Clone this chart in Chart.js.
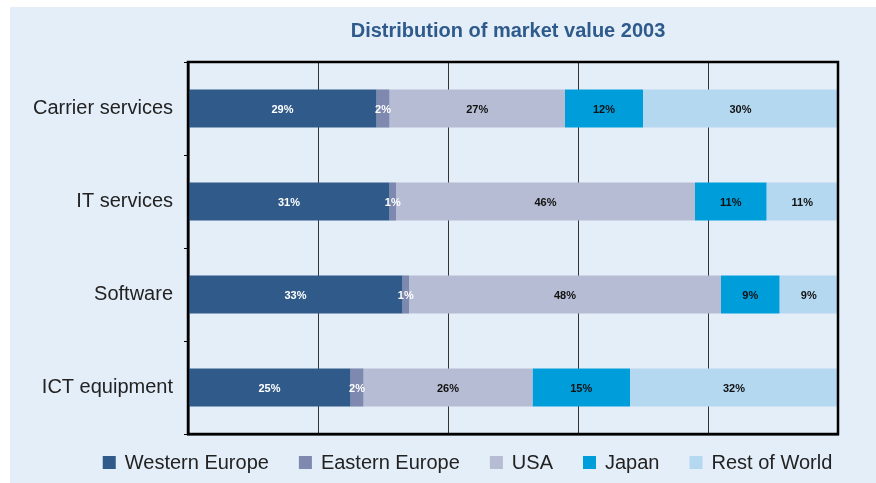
<!DOCTYPE html>
<html>
<head>
<meta charset="utf-8">
<script src="https://cdn.jsdelivr.net/npm/chart.js@4/dist/chart.umd.min.js"></script>
<style>
  body { margin: 0; background: #fff; }
  #panel { position: absolute; left: 10px; top: 7px; width: 866px; height: 476px; background: #e4eef8; }
</style>
</head>
<body>
<div id="panel"><canvas id="marketChart" width="866" height="476"></canvas></div>
<script>
const categories = ["Carrier services", "IT services", "Software", "ICT equipment"];
const regions = ["Western Europe", "Eastern Europe", "USA", "Japan", "Rest of World"];
const westernEurope = [29, 31, 33, 25];
const easternEurope = [2, 1, 1, 2];
const usa = [27, 46, 48, 26];
const japan = [12, 11, 9, 15];
const restOfWorld = [30, 11, 9, 32];
const colours = ["#2f5a8a", "#7f88ae", "#b6bcd3", "#009ddb", "#b5d8f1"];
const labelColours = ["#ffffff", "#ffffff", "#111111", "#111111", "#111111"];

const FONT = "'Liberation Sans', Arial, sans-serif";

// percent labels in the middle of each segment
const segmentLabels = {
    id: 'segmentLabels',
    afterDatasetsDraw(chart) {
        const ctx = chart.ctx;
        ctx.save();
        ctx.font = "bold 11px " + FONT;
        ctx.textAlign = 'center';
        ctx.textBaseline = 'middle';
        chart.data.datasets.forEach(function (ds, i) {
            const meta = chart.getDatasetMeta(i);
            meta.data.forEach(function (bar, j) {
                ctx.fillStyle = labelColours[i];
                ctx.fillText(ds.data[j] + '%', (bar.x + bar.base) / 2, bar.y + 1);
            });
        });
        ctx.restore();
    }
};

// frame, title and legend
const decorations = {
    id: 'decorations',
    afterDraw(chart) {
        const ctx = chart.ctx;
        const a = chart.chartArea;
        ctx.save();
        ctx.strokeStyle = '#000';
        ctx.lineWidth = 2.5;
        ctx.strokeRect(a.left, a.top, a.right - a.left, a.bottom - a.top);

        ctx.fillStyle = '#2f5a8c';
        ctx.font = "bold 20px " + FONT;
        ctx.textAlign = 'center';
        ctx.textBaseline = 'middle';
        ctx.fillText("Distribution of market value 2003", (a.left + a.right) / 2 - 5, 24);

        ctx.font = "20px " + FONT;
        ctx.textAlign = 'left';
        const box = 13, gap = 9, spacing = 30;
        let total = 0;
        regions.forEach(function (r) { total += box + gap + ctx.measureText(r).width; });
        total += spacing * (regions.length - 1);
        let x = 457.5 - total / 2;
        const y = 455.5;
        regions.forEach(function (r, i) {
            ctx.fillStyle = colours[i];
            ctx.fillRect(x, y - box / 2, box, box);
            ctx.fillStyle = '#222';
            ctx.fillText(r, x + box + gap, y + 1);
            x += box + gap + ctx.measureText(r).width + spacing;
        });
        ctx.restore();
    }
};

const seriesData = [westernEurope, easternEurope, usa, japan, restOfWorld];
const ctx = document.getElementById('marketChart').getContext('2d');
const chart = new Chart(ctx, {
    type: 'bar',
    data: {
        labels: categories,
        datasets: regions.map(function (r, i) {
            return {
                label: r,
                data: seriesData[i],
                backgroundColor: colours[i],
                borderWidth: 0,
                barPercentage: 0.82,
                categoryPercentage: 0.5
            };
        })
    },
    options: {
        indexAxis: 'y',
        responsive: false,
        animation: false,
        layout: { padding: { left: 0, right: 38, top: 55, bottom: 49 } },
        plugins: {
            legend: { display: false },
            title: { display: false },
            tooltip: { enabled: false }
        },
        scales: {
            x: {
                stacked: true,
                min: 0,
                max: 100,
                ticks: { display: false, stepSize: 20 },
                grid: { color: '#333', lineWidth: 1, drawTicks: false },
                border: { color: '#000', width: 2.5 }
            },
            y: {
                stacked: true,
                afterFit: function (axis) { axis.width = 178; },
                ticks: { color: '#222', font: { family: FONT, size: 20 }, padding: 11 },
                grid: { drawOnChartArea: false, tickLength: 4, color: '#000', offset: true },
                border: { color: '#000', width: 2.5 }
            }
        }
    },
    plugins: [segmentLabels, decorations]
});
</script>
</body>
</html>
